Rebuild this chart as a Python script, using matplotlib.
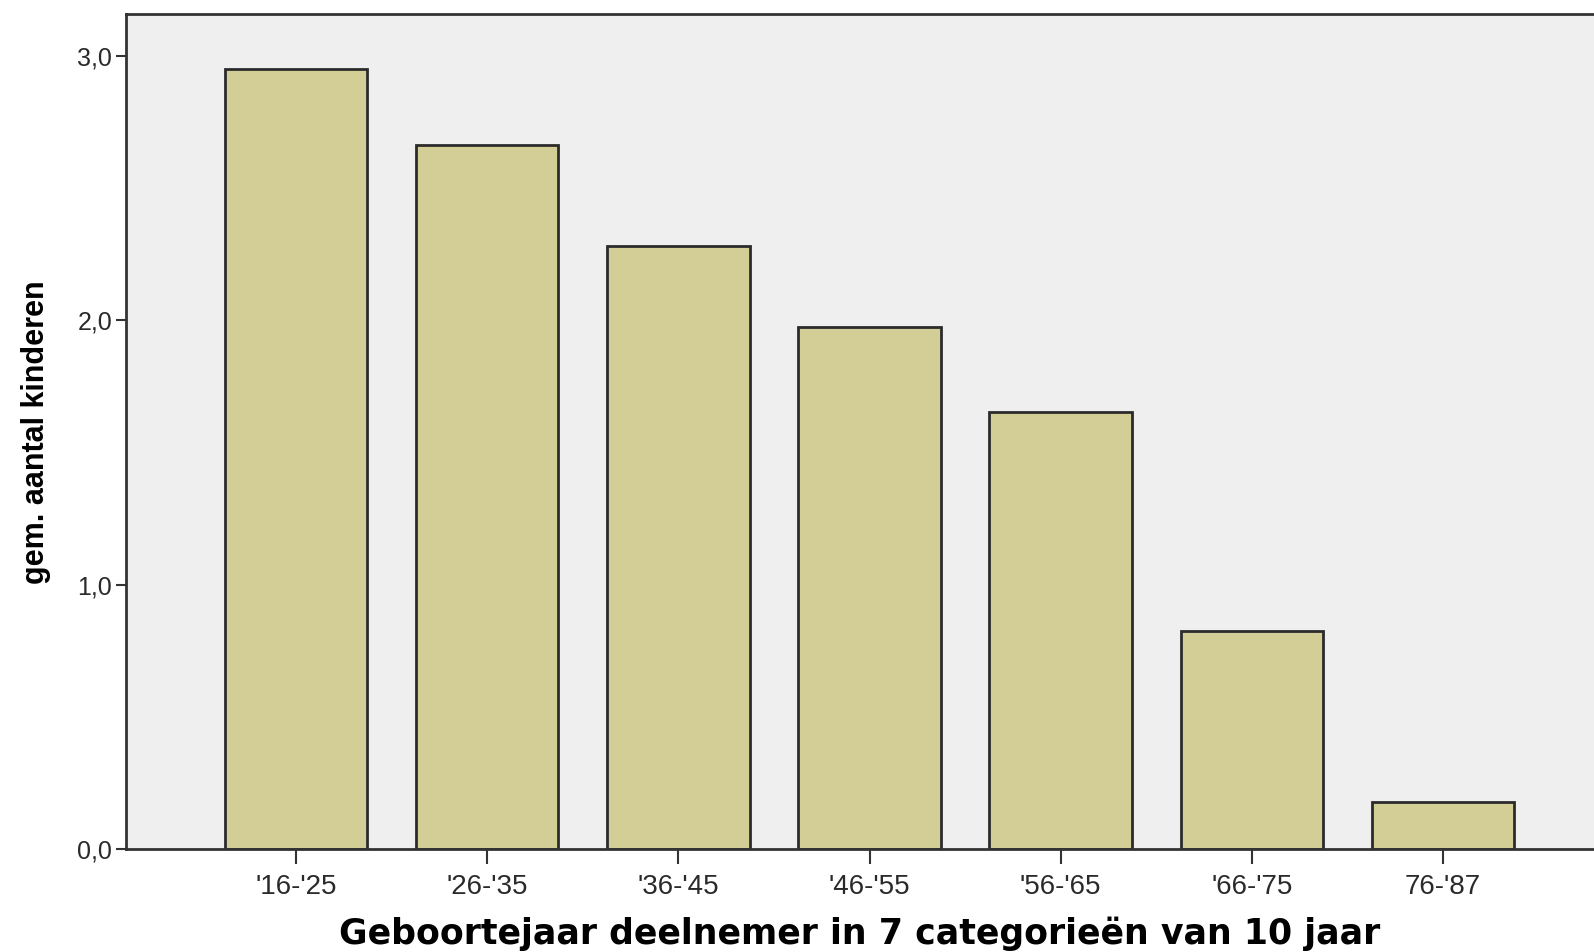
import matplotlib.pyplot as plt
from matplotlib.ticker import FuncFormatter

# gemiddeld aantal kinderen per geboortecohort
categories = ["'16-'25", "'26-'35", "'36-'45", "'46-'55", "'56-'65", "'66-'75", "76-'87"]
values = [2.95, 2.665, 2.28, 1.975, 1.655, 0.825, 0.18]
yticks = [0.0, 1.0, 2.0, 3.0]

plt.rcParams['font.family'] = ['Liberation Sans', 'DejaVu Sans']

fig = plt.figure(figsize=(15.94, 9.52), dpi=100)
ax = fig.add_axes([0.079, 0.108, 0.921, 0.877])
ax.set_facecolor('#efefef')

x = list(range(len(categories)))
ax.bar(x, values, width=0.745, color='#d3ce95', edgecolor='#2b2b2b', linewidth=2)

ax.set_xlim(-0.89, 6.79)
ax.set_ylim(0, 3.158)
ax.set_xticks(x)
ax.set_xticklabels(categories, fontsize=20, color='#2a2a2a')
ax.set_yticks(yticks)
ax.yaxis.set_major_formatter(FuncFormatter(lambda v, p: '{0:.1f}'.format(v).replace('.', ',')))
ax.tick_params(axis='y', labelsize=18, length=7, width=1.5, color='#333333', labelcolor='#2a2a2a', pad=3)
ax.tick_params(axis='x', length=11, width=1.5, color='#333333', pad=7)

for side in ['left', 'bottom', 'top']:
    ax.spines[side].set_color('#333333')
    ax.spines[side].set_linewidth(2)
ax.spines['right'].set_visible(False)

ax.set_ylabel('gem. aantal kinderen', fontsize=22, fontweight='bold', labelpad=19)
# wide bold font for the x label, like the original export
ax.set_xlabel('Geboortejaar deelnemer in 7 categorieën van 10 jaar', fontsize=25,
              fontweight='bold', family='DejaVu Sans', labelpad=12)

fig.savefig('out.png', dpi=100)
